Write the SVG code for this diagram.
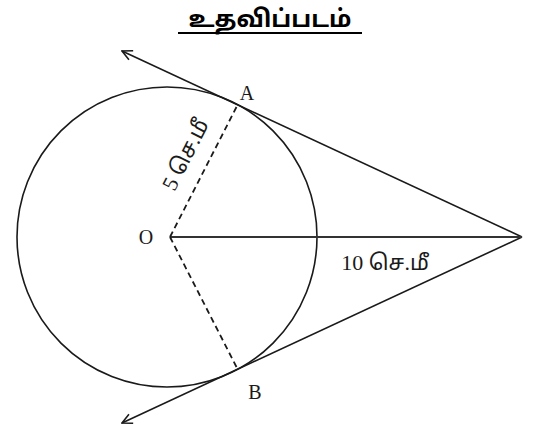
<svg xmlns="http://www.w3.org/2000/svg" width="542" height="434" viewBox="0 0 542 434">
<style>
.ln{stroke:#1a1a1a;stroke-width:1.6;fill:none}
.dash{stroke:#1a1a1a;stroke-width:1.8;fill:none;stroke-dasharray:6 4}
.lbl{font-family:"Liberation Serif","Noto Sans Tamil","Noto Sans",serif;font-size:20px;fill:#1a1a1a}
.tl{font-family:"Liberation Serif","Noto Sans Tamil","Noto Sans",serif;font-size:22px;fill:#1a1a1a}
.title{font-family:"Noto Sans Tamil","Noto Sans","Liberation Sans",sans-serif;font-size:24px;font-weight:bold;fill:#000}
</style>
<defs>
<marker id="arr" viewBox="0 0 12 12" refX="11" refY="6" markerWidth="12" markerHeight="12" markerUnits="userSpaceOnUse" orient="auto">
<path d="M1,1 L11,6 L1,11" fill="none" stroke="#1a1a1a" stroke-width="1.6"/>
</marker>
</defs>
<g id="title">
<text class="title" x="270" y="27" text-anchor="middle">உதவிப்படம்</text>
<line x1="178" y1="33" x2="362" y2="33" stroke="#000" stroke-width="2"/>
</g>
<g id="circle">
<circle cx="167" cy="237" r="150" class="ln"/>
</g>
<g id="connectors">
<line x1="522" y1="237" x2="122" y2="51" class="ln" marker-end="url(#arr)"/>
<line x1="522" y1="237" x2="122" y2="423" class="ln" marker-end="url(#arr)"/>
<line x1="170" y1="237" x2="522" y2="237" stroke="#333" stroke-width="2.2"/>
<line x1="170" y1="237" x2="237" y2="106" class="dash"/>
<line x1="170" y1="237" x2="237" y2="368" class="dash"/>
</g>
<g id="O"><text class="lbl" x="146" y="244" text-anchor="middle">O</text></g>
<g id="A"><text class="lbl" x="247" y="100" text-anchor="middle">A</text></g>
<g id="B"><text class="lbl" x="255" y="399" text-anchor="middle">B</text></g>
<g id="label-5"><text class="tl" x="0" y="0" text-anchor="middle" transform="translate(192,158) rotate(-63)">5 செ.மீ</text></g>
<g id="label-10"><text class="tl" x="385" y="270" text-anchor="middle">10 செ.மீ</text></g>
</svg>
